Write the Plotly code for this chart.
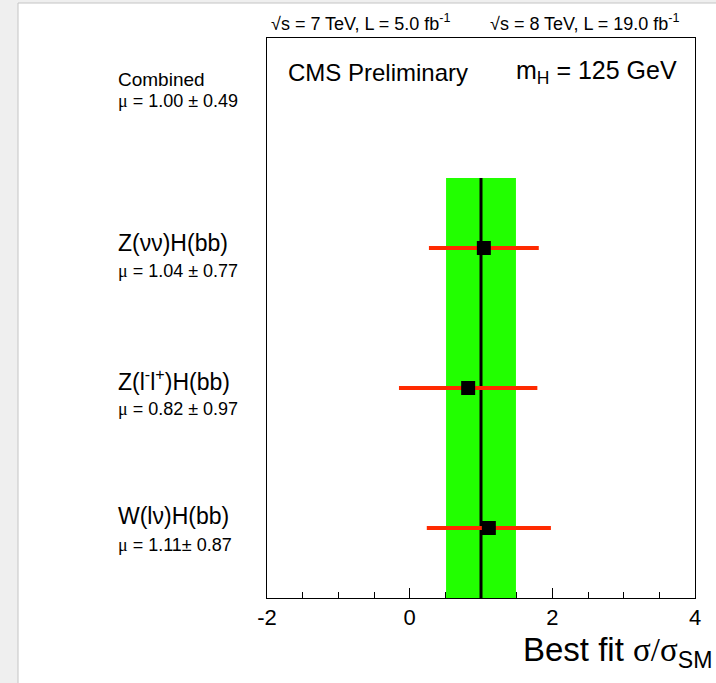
import plotly.graph_objects as go

# Signal strength results for VH(bb) channels
channels = ["W(lν)H(bb)", "Z(l<sup>-</sup>l<sup>+</sup>)H(bb)", "Z(νν)H(bb)"]
mu_values = [1.11, 0.82, 1.04]
mu_errors = [0.87, 0.97, 0.77]
mu_text = ["1.11± 0.87", "0.82 ± 0.97", "1.04 ± 0.77"]
row_pos = [0.5, 1.5, 2.5]

combined_mu = 1.00
combined_err = 0.49
combined_text = "1.00 ± 0.49"

x_ticks = [-2, 0, 2, 4]

# figure geometry (pixels)
W, H = 716, 683
L, R, T, B = 267, 695, 38, 598


def px(xp):
    return (xp - L) / (R - L)


def py(yp):
    return (B - yp) / (B - T)


SANS = "Liberation Sans, Arial, Helvetica, sans-serif"
SERIF = "Liberation Serif"
MU = f'<span style="font-family:{SERIF}">μ</span>'

fig = go.Figure()

fig.add_trace(go.Scatter(
    x=mu_values, y=row_pos, mode="markers",
    marker=dict(symbol="square", size=14, color="black"),
    error_x=dict(type="data", array=mu_errors, color="#ff2a00",
                 thickness=4, width=0),
    showlegend=False, hoverinfo="skip",
))

shapes = [
    # page panel
    dict(type="rect", xref="paper", yref="paper",
         x0=px(18), x1=px(717), y0=py(3), y1=py(690),
         fillcolor="white", line=dict(color="#c4c4c4", width=1), layer="below"),
    # combined uncertainty band
    dict(type="rect", xref="x", yref="y",
         x0=combined_mu - combined_err, x1=combined_mu + combined_err,
         y0=0, y1=3, fillcolor="#22ff00", line=dict(width=0), layer="below"),
    # combined best fit
    dict(type="line", xref="x", yref="y", x0=combined_mu, x1=combined_mu,
         y0=0, y1=3, line=dict(color="black", width=3), layer="below"),
]

ann = []


def text(x, y, s, size, anchor="left"):
    ann.append(dict(x=px(x), y=py(y), xref="paper", yref="paper", text=s,
                    showarrow=False, xanchor=anchor, yanchor="middle",
                    font=dict(family=SANS, size=size, color="black")))


text(269, 22, "√s = 7 TeV, L = 5.0 fb<sup>-1</sup>", 18)
text(488, 22, "√s = 8 TeV, L = 19.0 fb<sup>-1</sup>", 18)
text(286, 72, "CMS Preliminary", 24)
text(514, 72, "m<sub>H</sub> = 125 GeV", 25)

text(116, 80, "Combined", 19)
text(116, 101, f"{MU} = {combined_text}", 18)

label_y = {2.5: (243, 271), 1.5: (380, 409), 0.5: (516, 545)}
for name, mt, r in zip(channels, mu_text, row_pos):
    y1, y2 = label_y[r]
    text(116, y1, name, 23)
    text(116, y2, f"{MU} = {mt}", 18)

ann.append(dict(x=px(714), y=py(652), xref="paper", yref="paper",
                text=f'Best fit <span style="font-family:{SERIF}">σ/σ</span><sub>SM</sub>',
                showarrow=False, xanchor="right", yanchor="middle",
                font=dict(family=SANS, size=33, color="black")))

fig.update_layout(
    width=W, height=H,
    margin=dict(l=L, r=W - R, t=T, b=H - B, pad=0),
    paper_bgcolor="#efefef", plot_bgcolor="rgba(0,0,0,0)",
    shapes=shapes, annotations=ann,
    xaxis=dict(range=[-2, 4], tickvals=x_ticks, ticktext=[str(v) for v in x_ticks],
               ticks="inside", ticklen=10, tickwidth=1, tickcolor="black",
               minor=dict(ticks="inside", ticklen=6, dtick=0.5, tick0=0,
                          tickcolor="black", showgrid=False),
               showline=True, linecolor="black", linewidth=1, mirror=True,
               showgrid=False, zeroline=False,
               tickfont=dict(family=SANS, size=22, color="black")),
    yaxis=dict(range=[0, 4], showticklabels=False, ticks="",
               showline=True, linecolor="black", linewidth=1, mirror=True,
               showgrid=False, zeroline=False),
)

fig.write_html("out.html")
